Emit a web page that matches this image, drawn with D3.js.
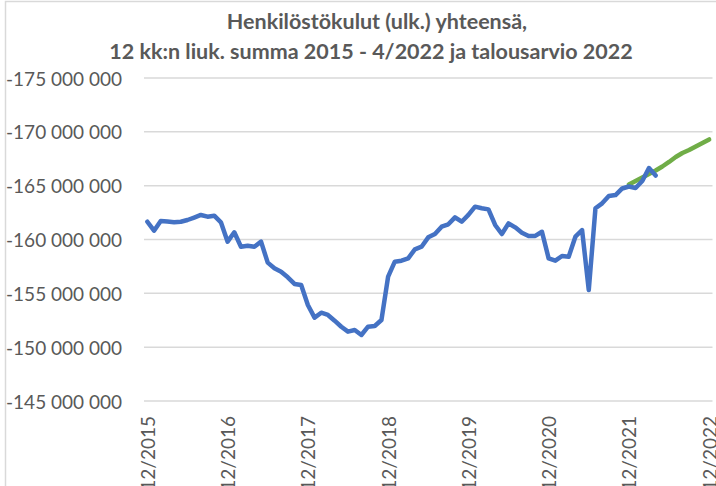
<!DOCTYPE html>
<html>
<head>
<meta charset="utf-8">
<script src="https://cdn.jsdelivr.net/npm/d3@7"></script>
<style>
  html, body { margin: 0; padding: 0; background: #fff; }
  svg { display: block; font-family: Lato, "Open Sans", sans-serif; }
</style>
</head>
<body>
<div id="chart"></div>
<script>
// kuukaudet 12/2015 ... 12/2022 (85 kpl)
const months = d3.range(85).map((i) => {
  const m = ((11 + i) % 12) + 1;
  const y = 2015 + Math.floor((11 + i) / 12);
  return `${m}/${y}`;
});

// toteuma 12/2015 - 4/2022 (12 kk liukuva summa, €)
const actual = [
  -161650000, -160820000, -161720000, -161670000, -161600000, -161650000,
  -161810000, -162040000, -162280000, -162120000, -162210000, -161600000,
  -159800000, -160670000, -159330000, -159420000, -159330000, -159800000,
  -157850000, -157330000, -157010000, -156490000, -155870000, -155770000,
  -153920000, -152740000, -153200000, -152990000, -152460000, -151900000,
  -151440000, -151590000, -151130000, -151900000, -151970000, -152520000,
  -156550000, -157940000, -158030000, -158250000, -159090000, -159330000,
  -160200000, -160510000, -161190000, -161410000, -162060000, -161650000,
  -162280000, -163050000, -162900000, -162800000, -161350000, -160510000,
  -161500000, -161130000, -160630000, -160330000, -160330000, -160720000,
  -158250000, -158030000, -158470000, -158400000, -160260000, -160880000,
  -155310000, -162900000, -163360000, -164040000, -164130000, -164740000,
  -164920000, -164780000, -165430000, -166640000, -165940000
];

// talousarvio 12/2021 - 12/2022
const budgetStart = 72;
const budget = [
  -165110000, -165430000, -165760000, -166080000, -166410000, -166780000,
  -167200000, -167660000, -168030000, -168310000, -168640000, -168960000,
  -169290000
];

const yTicks = [-175e6, -170e6, -165e6, -160e6, -155e6, -150e6, -145e6];
const xTickLabels = ["12/2015", "12/2016", "12/2017", "12/2018", "12/2019", "12/2020", "12/2021", "12/2022"];

const titleLines = [
  "Henkilöstökulut (ulk.) yhteensä,",
  "12 kk:n liuk. summa 2015 - 4/2022 ja talousarvio 2022"
];

const width = 716, height = 486;
const textColor = "#595959";

const svg = d3.select("#chart").append("svg")
  .attr("width", width).attr("height", height);

// kehys
svg.append("rect")
  .attr("x", 5.5).attr("y", 1.5)
  .attr("width", width + 10).attr("height", height + 10)
  .attr("fill", "none").attr("stroke", "#d9d9d9").attr("stroke-width", 1.5);

const x = d3.scaleBand().domain(months).range([144, 712.5]);
const xc = (m) => x(m) + x.bandwidth() / 2;
const y = d3.scaleLinear().domain([-175e6, -145e6]).range([78, 401]);

// gridlines
svg.append("g")
  .selectAll("line")
  .data(yTicks)
  .join("line")
  .attr("x1", 144).attr("x2", 712.5)
  .attr("y1", (d) => y(d)).attr("y2", (d) => y(d))
  .attr("stroke", "#d9d9d9").attr("stroke-width", 1.5);

const fmt = (v) => "-" + d3.format(",")(Math.abs(v)).replace(/,/g, " ");

svg.append("g")
  .selectAll("text")
  .data(yTicks)
  .join("text")
  .attr("x", 122).attr("y", (d) => y(d))
  .attr("text-anchor", "end")
  .attr("dominant-baseline", "central")
  .style("font-size", "19px")
  .style("fill", textColor)
  .text(fmt);

svg.append("g")
  .selectAll("text")
  .data(xTickLabels)
  .join("text")
  .attr("transform", (d) => `translate(${xc(d)},416) rotate(-90)`)
  .attr("text-anchor", "end")
  .attr("dominant-baseline", "central")
  .style("font-size", "19px")
  .style("fill", textColor)
  .text((d) => d);

// otsikko
svg.append("g")
  .selectAll("text")
  .data(titleLines)
  .join("text")
  .attr("x", (d, i) => (i === 0 ? 377 : 371))
  .attr("y", (d, i) => 29 + i * 30)
  .attr("text-anchor", "middle")
  .style("font-size", "21.5px")
  .style("font-weight", "bold")
  .style("fill", textColor)
  .text((d) => d);

const line = d3.line()
  .x((d) => xc(d.m))
  .y((d) => y(d.v));

const budgetData = budget.map((v, i) => ({ m: months[budgetStart + i], v }));
const actualData = actual.map((v, i) => ({ m: months[i], v }));

svg.append("path")
  .datum(budgetData)
  .attr("d", line)
  .attr("fill", "none")
  .attr("stroke", "#70ad47")
  .attr("stroke-width", 4.5)
  .attr("stroke-linejoin", "round")
  .attr("stroke-linecap", "round");

svg.append("path")
  .datum(actualData)
  .attr("d", line)
  .attr("fill", "none")
  .attr("stroke", "#4472c4")
  .attr("stroke-width", 4.5)
  .attr("stroke-linejoin", "round")
  .attr("stroke-linecap", "round");
</script>
</body>
</html>
